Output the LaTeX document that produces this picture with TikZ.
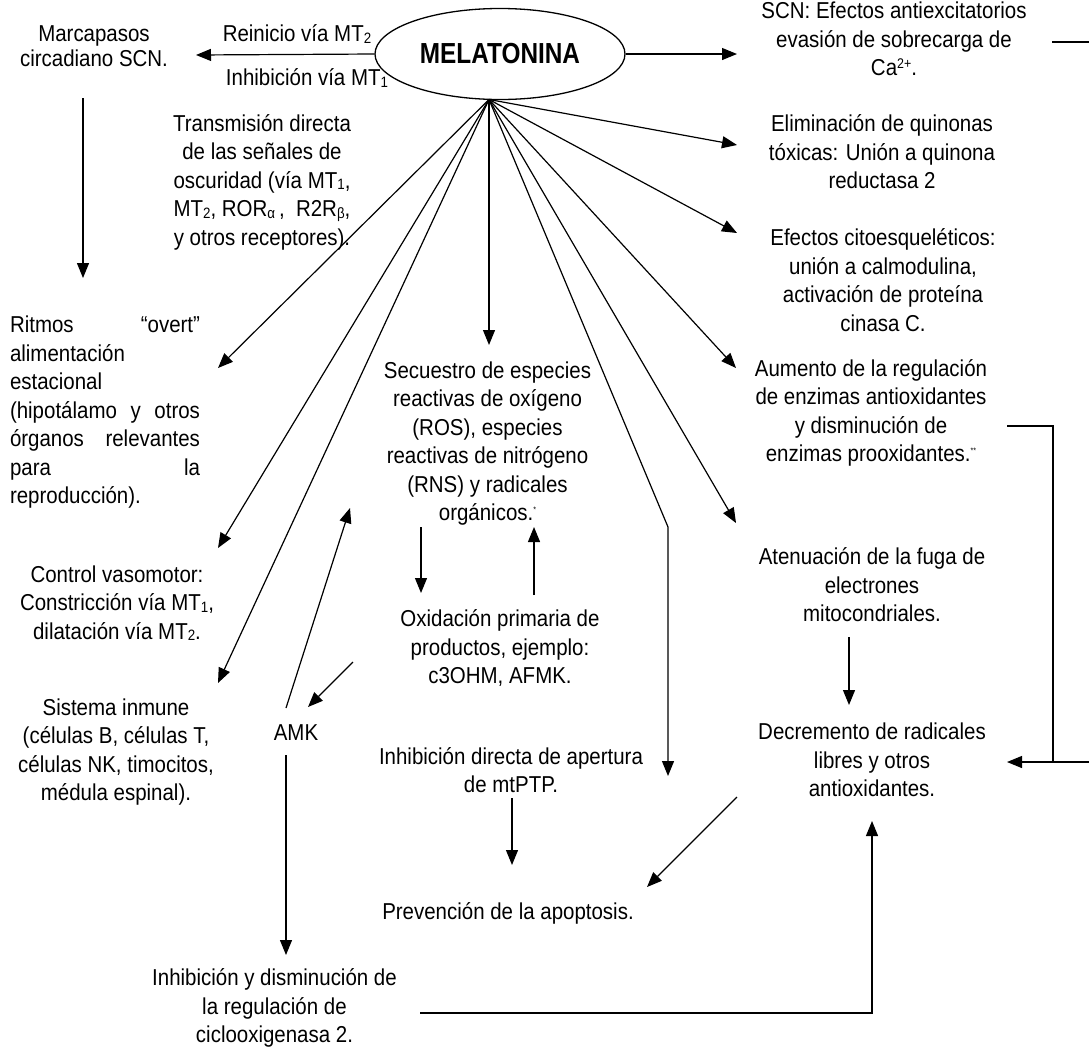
\documentclass[tikz,border=0pt]{standalone}
\usepackage{fontspec}
\setmainfont{Liberation Sans}[FakeStretch=0.89]
\newfontfamily\melfont{Liberation Sans}[FakeStretch=0.84]
\usetikzlibrary{arrows.meta,shapes.geometric}
\newcommand\jl[1]{\leavevmode\hbox to 190pt{#1}}
\newcommand\tinysup[1]{\raisebox{8pt}{\fontsize{8}{8}\selectfont #1}}
\newcommand\lowsub[1]{\raisebox{-1.5pt}{\fontsize{15}{15}\selectfont #1}}
\newcommand\hisup[1]{\raisebox{7pt}{\fontsize{14}{14}\selectfont #1}}
\begin{document}
\begin{tikzpicture}[x=1pt,y=-1pt,
  txt/.style={inner sep=0pt, align=center, font=\fontsize{23}{28.5}\selectfont},
  arr/.style={-{Triangle[length=15pt,width=12pt]}, line width=1.2pt},
  ln/.style={line width=1.2pt}]
\useasboundingbox (0,0) rectangle (1089,1053);

% central node
\node[ellipse, draw, line width=1.3pt, minimum width=250pt, minimum height=91pt, inner sep=0pt]
  (mel) at (500,54) {\melfont\bfseries\fontsize{29}{30}\selectfont MELATONINA};
\coordinate (hub) at (489,99.5);

% text nodes
\node[txt, font=\fontsize{23}{25.5}\selectfont] (marc) at (94,46) {Marcapasos\\circadiano SCN.};
\node[txt] (reinicio) at (297,34) {Reinicio vía MT\lowsub{2}};
\node[txt] (inhib) at (307,78) {Inhibición vía MT\lowsub{1}};
\node[txt] (trans) at (262,182) {Transmisión directa\\de las señales de\\oscuridad (vía MT\lowsub{1},\\MT\lowsub{2}, ROR\lowsub{α}\,,\ \ R2R\lowsub{β},\\y otros receptores).};
\node[txt] (scn) at (894,39) {SCN: Efectos antiexcitatorios\\evasión de sobrecarga de\\Ca\hisup{2+}.};
\node[txt] (elim) at (882,152) {Eliminación de quinonas\\tóxicas: Unión a quinona\\reductasa 2};
\node[txt] (cito) at (883,280) {Efectos citoesqueléticos:\\unión a calmodulina,\\activación de proteína\\cinasa C.};
\node[txt] (aum) at (871,413) {Aumento de la regulación\\de enzimas antioxidantes\\y disminución de\\enzimas prooxidantes.\tinysup{**}};
\node[txt] (aten) at (872,585) {Atenuación de la fuga de\\electrones\\mitocondriales.};
\node[txt] (decr) at (872,760) {Decremento de radicales\\libres y otros\\antioxidantes.};
\node[txt, align=left, text width=190pt] (ritmos) at (105,412.5) {\jl{Ritmos\hfill “overt”}\\alimentación\\estacional\\\jl{(hipotálamo\hfill y\hfill otros}\\\jl{órganos\hfill relevantes}\\\jl{para\hfill la}\\reproducción).};
\node[txt] (vaso) at (117,603) {Control vasomotor:\\Constricción vía MT\lowsub{1},\\dilatación vía MT\lowsub{2}.};
\node[txt] (inm) at (116,752) {Sistema inmune\\(células B, células T,\\células NK, timocitos,\\médula espinal).};
\node[txt] (ros) at (487.5,443.5) {Secuestro de especies\\reactivas de oxígeno\\(ROS), especies\\reactivas de nitrógeno\\(RNS) y radicales\\orgánicos.\tinysup{*}};
\node[txt] (oxid) at (500,648) {Oxidación primaria de\\productos, ejemplo:\\c3OHM, AFMK.};
\node[txt] (amk) at (296,733) {AMK};
\node[txt] (inhdir) at (511,770) {Inhibición directa de apertura\\de mtPTP.};
\node[txt] (prev) at (508,913) {Prevención de la apoptosis.};
\node[txt] (cox) at (274.5,1008) {Inhibición y disminución de\\la regulación de\\ciclooxigenasa 2.};

% connector end points
\coordinate (marcIn) at (196,55);
\coordinate (scnIn) at (737,54);
\coordinate (elimIn) at (737,145);
\coordinate (citoIn) at (737,233);
\coordinate (aumIn) at (736,368);
\coordinate (atenIn) at (736,523);
\coordinate (bendA) at (668,527);
\coordinate (bendB) at (668,776);
\coordinate (rosIn) at (489,345);
\coordinate (ritIn) at (218,368);
\coordinate (vasoIn) at (218,548);
\coordinate (inmIn) at (218,683);
\coordinate (marcOut) at (83,98);
\coordinate (ritTop) at (83,278);
\coordinate (rosOutA) at (421,527);
\coordinate (oxidInA) at (421,593);
\coordinate (oxidOutB) at (534,595);
\coordinate (rosInB) at (534,527);
\coordinate (oxidOutC) at (353,662);
\coordinate (amkIn) at (308,707);
\coordinate (amkOutUp) at (286,708);
\coordinate (rosInC) at (350,508);
\coordinate (amkOutDn) at (286,755);
\coordinate (coxIn) at (286,955);
\coordinate (coxOut) at (420,1013);
\coordinate (coxCorner) at (872,1013);
\coordinate (decrInBot) at (872,821);
\coordinate (inhOut) at (512,798);
\coordinate (prevIn) at (512,865);
\coordinate (decrOut) at (737,797);
\coordinate (prevInB) at (647,887);
\coordinate (atenOut) at (849,637);
\coordinate (decrInTop) at (849,705);
\coordinate (aumOut) at (1007,426);
\coordinate (aumCorner) at (1053,426);
\coordinate (joinR) at (1053,762);
\coordinate (edgeR) at (1089,762);
\coordinate (decrInR) at (1007,762);
\coordinate (scnOut) at (1052,42);
\coordinate (edgeTop) at (1089,42);

% connectors
\draw[arr] (mel.west) -- (marcIn);
\draw[arr] (mel.east) -- (scnIn);
\draw[arr] (hub) -- (elimIn);
\draw[arr] (hub) -- (citoIn);
\draw[arr] (hub) -- (aumIn);
\draw[arr] (hub) -- (atenIn);
\draw[arr] (hub) -- (bendA) -- (bendB);
\draw[arr] (hub) -- (rosIn);
\draw[arr] (hub) -- (ritIn);
\draw[arr] (hub) -- (vasoIn);
\draw[arr] (hub) -- (inmIn);
\draw[arr] (marcOut) -- (ritTop);
\draw[arr] (rosOutA) -- (oxidInA);
\draw[arr] (oxidOutB) -- (rosInB);
\draw[arr] (oxidOutC) -- (amkIn);
\draw[arr] (amkOutUp) -- (rosInC);
\draw[arr] (amkOutDn) -- (coxIn);
\draw[arr] (coxOut) -- (coxCorner) -- (decrInBot);
\draw[arr] (inhOut) -- (prevIn);
\draw[arr] (decrOut) -- (prevInB);
\draw[arr] (atenOut) -- (decrInTop);
\draw[ln] (aumOut) -- (aumCorner) -- (joinR);
\draw[arr] (edgeR) -- (decrInR);
\draw[ln] (scnOut) -- (edgeTop);
\end{tikzpicture}
\end{document}
